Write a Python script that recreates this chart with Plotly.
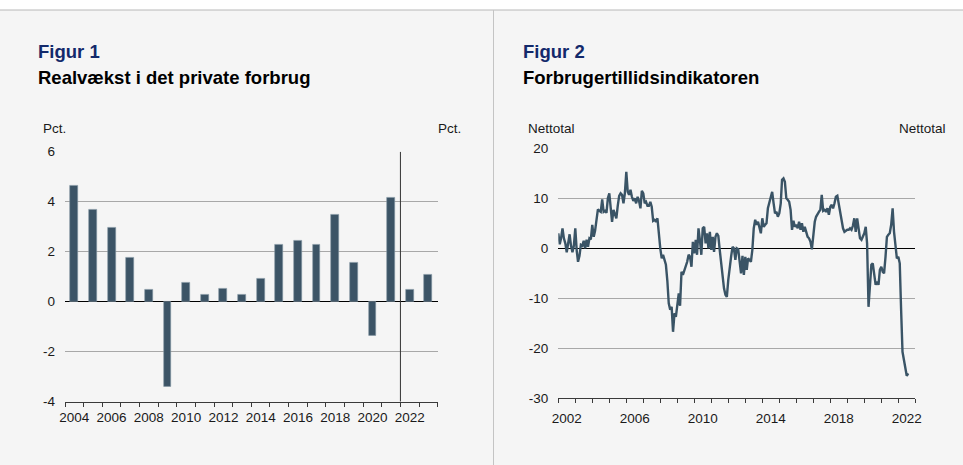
import plotly.graph_objects as go
import pandas as pd

W, H = 963, 465

# ---------------- Figure 1: Realvækst i det private forbrug ----------------
bar_years = [str(y) for y in range(2004, 2024)]
bar_values = [4.65, 3.7, 2.95, 1.78, 0.5, -3.4, 0.78, 0.28, 0.51, 0.28,
              0.91, 2.28, 2.43, 2.28, 3.5, 1.58, -1.36, 4.15, 0.5, 1.1]
bar_label_years = [str(y) for y in range(2004, 2023, 2)]
bar_yticks = [-4, -2, 0, 2, 4, 6]
bar_yrange = [-4, 6]
forecast_after = "2021"   # vertical line after this year

# ---------------- Figure 2: Forbrugertillidsindikatoren (monthly) ----------------
fti_start = "2002-01-01"
fti_2002 = [3.0, 0.8, 2.0, 4.0, 2.0, 1.0, -0.8, 1.5, 2.8, 0.5, -0.8, 0.5]
fti_2003 = [4.0, -0.5, -2.7, -1.5, 0.7, 0.5, 1.5, 0.0, 1.7, 0.3, 2.0, 1.8]
fti_2004 = [4.7, 2.3, 3.5, 5.7, 7.8, 7.5, 7.3, 9.8, 7.3, 7.5, 7.1, 10.0]
fti_2005 = [11.0, 8.0, 5.3, 7.7, 7.0, 6.0, 8.5, 10.5, 11.0, 10.7, 9.0, 11.0]
fti_2006 = [15.3, 11.3, 10.7, 11.7, 10.3, 9.5, 10.0, 9.0, 10.3, 9.5, 8.0, 11.5]
fti_2007 = [11.0, 9.0, 9.3, 8.5, 8.5, 9.3, 8.3, 5.5, 5.7, 5.3, 6.0, 2.7]
fti_2008 = [0.0, -2.0, -1.3, -2.3, -3.3, -6.5, -11.0, -12.3, -11.7, -16.7, -13.0, -13.7]
fti_2009 = [-11.7, -9.0, -11.5, -4.7, -5.3, -4.5, -3.7, -2.7, -1.3, -1.7, -3.7, 1.3]
fti_2010 = [-1.0, 1.7, -1.3, 4.0, 1.7, -1.3, 4.0, 4.3, 1.0, 3.0, 0.0, 3.3]
fti_2011 = [-0.3, 2.3, -0.7, 2.3, 3.0, 2.5, -0.3, -3.0, -6.3, -8.0, -9.3, -9.7]
fti_2012 = [-6.3, -3.5, -1.7, 0.3, 0.0, -2.3, 0.0, -0.2, -2.7, -5.0, -1.5, -5.3]
fti_2013 = [-1.7, -4.3, -2.0, -2.3, -2.7, -0.3, 4.0, 5.7, 4.7, 5.3, 4.0, 3.0]
fti_2014 = [6.0, 4.3, 4.7, 5.0, 8.0, 9.3, 10.3, 11.3, 9.0, 7.0, 7.3, 6.3]
fti_2015 = [7.0, 9.0, 13.7, 14.0, 13.3, 10.0, 9.7, 9.3, 7.7, 3.7, 5.5, 4.3]
fti_2016 = [4.7, 4.0, 5.3, 3.7, 5.0, 3.3, 4.3, 3.3, 2.3, 2.0, 1.3, -0.2]
fti_2017 = [3.3, 5.3, 6.3, 7.0, 7.3, 7.7, 10.7, 7.5, 7.7, 7.3, 8.0, 6.7]
fti_2018 = [8.3, 8.7, 8.0, 9.0, 10.3, 10.5, 8.7, 7.0, 5.0, 4.0, 3.3, 3.5]
fti_2019 = [3.7, 3.7, 4.0, 3.7, 4.5, 6.0, 3.3, 6.0, 4.0, 2.0, 1.7, 2.5]
fti_2020 = [3.0, 4.3, 1.0, -11.7, -7.7, -3.3, -3.0, -5.3, -7.3, -6.7, -7.3, -4.3]
fti_2021 = [-3.7, -4.7, -5.0, -1.7, 2.3, 2.7, 3.0, 4.7, 8.0, 3.3, 0.0, -2.0]
fti_2022 = [-1.7, -3.0, -12.0, -20.7, -22.3, -24.3, -25.5, -25.0]
fti_label_years = [2002, 2006, 2010, 2014, 2018, 2022]
fti_all_years = list(range(2002, 2024))
fti_yticks = [-30, -20, -10, 0, 10, 20]
fti_yrange = [-30, 20]

fti_values = (fti_2002 + fti_2003 + fti_2004 + fti_2005 + fti_2006 + fti_2007 +
              fti_2008 + fti_2009 + fti_2010 + fti_2011 + fti_2012 + fti_2013 +
              fti_2014 + fti_2015 + fti_2016 + fti_2017 + fti_2018 + fti_2019 +
              fti_2020 + fti_2021 + fti_2022)
fti_dates = pd.date_range(fti_start, periods=len(fti_values), freq="MS")

# ---------------- styling ----------------
FONT = "Liberation Sans, Arial, sans-serif"
BG = "#f5f5f5"
NAVY = "#13296b"
BAR = "#3c5466"
LINE = "#3a5466"
GRID = "#a8a8a8"
AX = "#3a3a3a"
TXT = "#1a1a1a"
TICKFONT = dict(family=FONT, size=13.5, color=TXT)


def px(x):
    return x / W


def py(y):
    return 1 - y / H


fig = go.Figure()
fig.add_trace(go.Bar(
    x=bar_years, y=bar_values, width=0.42,
    marker=dict(color=BAR, line=dict(color="#8395a2", width=0.6)),
    xaxis="x", yaxis="y", showlegend=False))
fig.add_trace(go.Scatter(
    x=fti_dates, y=fti_values, mode="lines",
    line=dict(color=LINE, width=2.4),
    xaxis="x2", yaxis="y3", showlegend=False))

common_y = dict(ticks="", tickfont=TICKFONT, ticklabelstandoff=9,
                fixedrange=True, tickmode="array", automargin=False)

fig.update_layout(
    width=W, height=H, autosize=False,
    margin=dict(l=0, r=0, t=0, b=0, pad=0, autoexpand=False),
    paper_bgcolor=BG, plot_bgcolor=BG,
    font=dict(family=FONT, color=TXT),
    bargap=0, showlegend=False,
    # figure 1 x axis: categories, tick marks on boundaries
    xaxis=dict(
        domain=[px(65), px(437.7)], anchor="y", type="category",
        range=[-0.5, len(bar_years) - 0.5],
        tickmode="array", tickvals=bar_years,
        ticktext=[y if y in bar_label_years else "" for y in bar_years],
        tickson="boundaries", tickangle=0,
        ticks="outside", ticklen=4, tickcolor=AX, tickwidth=1,
        showgrid=False, zeroline=False,
        showline=True, linecolor=AX, linewidth=1,
        tickfont=TICKFONT, ticklabelstandoff=3, fixedrange=True,
        automargin=False),
    yaxis=dict(
        domain=[py(401.7), py(151.7)], anchor="x",
        range=bar_yrange, tickvals=bar_yticks, ticktext=[str(v) for v in bar_yticks],
        showgrid=True, gridcolor=GRID, gridwidth=1,
        zeroline=True, zerolinecolor="#000000", zerolinewidth=1,
        **common_y),
    yaxis2=dict(
        overlaying="y", anchor="x", side="right",
        range=bar_yrange, tickvals=bar_yticks, ticktext=[str(v) for v in bar_yticks],
        showgrid=False, zeroline=False, **common_y),
    # figure 2 x axis: yearly tick marks, labels centred in the year
    xaxis2=dict(
        domain=[px(558.3), px(915.3)], anchor="y3", type="date",
        range=["2002-01-01", "2023-01-01"],
        tickmode="linear", tick0="2002-01-01", dtick="M12",
        ticklabelmode="period", tickformat="%Y", tickangle=0,
        labelalias={str(y): " " for y in fti_all_years if y not in fti_label_years},
        ticks="outside", ticklen=4, tickcolor=AX, tickwidth=1,
        showgrid=False, zeroline=False,
        showline=True, linecolor=AX, linewidth=1,
        tickfont=TICKFONT, ticklabelstandoff=3, fixedrange=True,
        automargin=False),
    yaxis3=dict(
        domain=[py(398.3), py(148.3)], anchor="x2",
        range=fti_yrange, tickvals=fti_yticks, ticktext=[str(v) for v in fti_yticks],
        showgrid=True, gridcolor=GRID, gridwidth=1,
        zeroline=True, zerolinecolor="#000000", zerolinewidth=1,
        **common_y),
    yaxis4=dict(
        overlaying="y3", anchor="x2", side="right",
        range=fti_yrange, tickvals=fti_yticks, ticktext=[str(v) for v in fti_yticks],
        showgrid=False, zeroline=False, **common_y),
)

split_idx = bar_years.index(forecast_after) + 0.5
shapes = [
    # white strip on top and separator lines
    dict(type="rect", xref="paper", yref="paper", x0=0, x1=1, y0=py(10), y1=1,
         fillcolor="#ffffff", line=dict(width=0), layer="below"),
    dict(type="line", xref="paper", yref="paper", x0=0, x1=1, y0=py(10), y1=py(10),
         line=dict(color="#b8b8b8", width=1)),
    dict(type="line", xref="paper", yref="paper", x0=px(493.5), x1=px(493.5),
         y0=0, y1=py(10), line=dict(color="#c4c4c4", width=1)),
    # forecast split line in figure 1
    dict(type="line", xref="x", yref="y", x0=split_idx, x1=split_idx,
         y0=bar_yrange[0], y1=bar_yrange[1], line=dict(color="#333333", width=1)),
]
fig.update_layout(shapes=shapes)


def ann(text, x, y, size, color=TXT, xanchor="left", bold=False):
    return dict(text=f"<b>{text}</b>" if bold else text,
                x=px(x), y=py(y), xref="paper", yref="paper",
                xanchor=xanchor, yanchor="middle", showarrow=False,
                font=dict(family=FONT, size=size, color=color), borderpad=0)


annotations = [
    ann("Figur 1", 36.5, 51.5, 18.5, NAVY, bold=True),
    ann("Realvækst i det private forbrug", 36.5, 77.5, 18.5, "#000000", bold=True),
    ann("Pct.", 41.5, 128, 13.5),
    ann("Pct.", 462, 128, 13.5, xanchor="right"),
    ann("Figur 2", 522, 51.5, 18.5, NAVY, bold=True),
    ann("Forbrugertillidsindikatoren", 522, 77.5, 18.5, "#000000", bold=True),
    ann("Nettotal", 527, 128, 13.5),
    ann("Nettotal", 947, 128, 13.5, xanchor="right"),
]
fig.update_layout(annotations=annotations)

post = ("document.documentElement.style.margin='0';"
        "document.body.style.margin='0';document.body.style.padding='0';"
        "document.body.style.overflow='hidden';"
        "var gd=document.getElementById('{plot_id}');"
        "Plotly.relayout(gd,{width:963,height:465});")

fig.write_html("out.html", config=dict(displayModeBar=False, responsive=False),
               post_script=post)
